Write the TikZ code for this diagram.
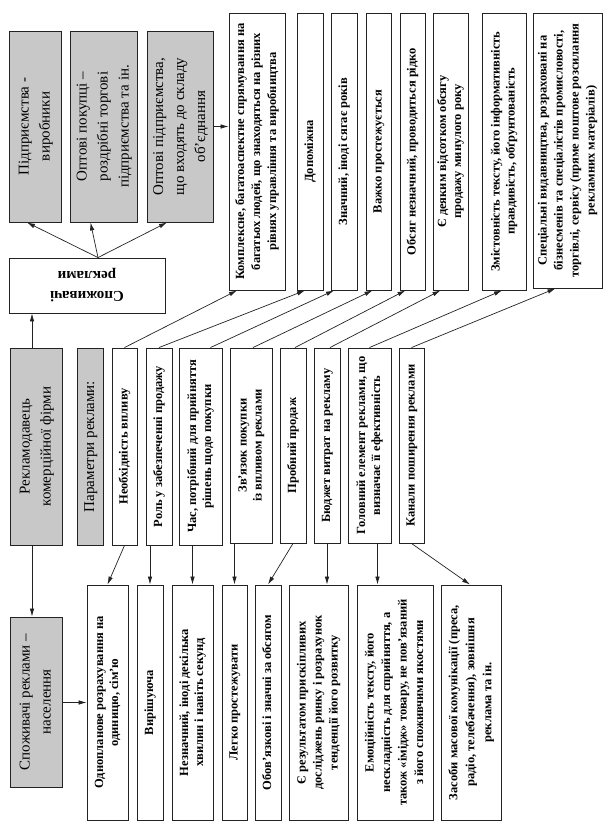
\documentclass[tikz,border=0pt]{standalone}
\usepackage{fontspec}
\setmainfont{Liberation Serif}
\usepackage{graphicx}
\usetikzlibrary{arrows.meta,calc}
\definecolor{boxgray}{RGB}{200,200,200}
\definecolor{lineclr}{RGB}{35,35,35}
\newcommand{\vtxt}[1]{\rotatebox{90}{\begin{tabular}{@{}c@{}}#1\end{tabular}}}
\tikzset{
  wbox/.style={draw=lineclr, line width=0.9pt, fill=white, inner sep=0pt, text=black,
    font=\bfseries\fontsize{12.5}{15}\selectfont},
  gbox/.style={wbox, fill=boxgray, font=\fontsize{15}{21}\selectfont},
  arr/.style={draw=lineclr, line width=0.7pt, -{Latex[length=8pt,width=4.5pt]}},
}
\begin{document}
\begin{tikzpicture}[x=1pt,y=-1pt]
\useasboundingbox (0,0) rectangle (612,835);
\fill[white] (0,0) rectangle (612,835);
% top gray boxes
\node[gbox, minimum width=52pt, minimum height=191pt] (G1) at (35,126.5) {\vtxt{Підприємства -\\виробники}};
\node[gbox, minimum width=67pt, minimum height=191pt] (G2) at (103.5,126.5) {\vtxt{Оптові покупці –\\роздрібні торгові\\підприємства та ін.}};
\node[gbox, minimum width=66pt, minimum height=191pt] (G3) at (180,126.5) {\vtxt{Оптові підприємства,\\що входять до складу\\об’єднання}};
% consumers of advertising
\node[wbox, font=\bfseries\fontsize{15}{20}\selectfont, minimum width=156pt, minimum height=55pt] (SR) at (87,285.5) {\rotatebox{180}{\begin{tabular}{@{}c@{}}Споживачі\\реклами\end{tabular}}};
% top white boxes
\node[wbox, font=\bfseries\fontsize{12.5}{16}\selectfont, minimum width=56pt, minimum height=277pt] (T1) at (257,151.5) {\vtxt{Комплексне, багатоаспектне спрямування на\\багатьох людей, що знаходяться на різних\\рівнях управління та виробництва}};
\node[wbox, minimum width=26pt, minimum height=277pt] (T2) at (310,151.5) {\vtxt{Допоміжна}};
\node[wbox, minimum width=26pt, minimum height=277pt] (T3) at (344,151.5) {\vtxt{Значний, іноді сягає років}};
\node[wbox, minimum width=25pt, minimum height=277pt] (T4) at (378.5,151.5) {\vtxt{Важко простежується}};
\node[wbox, minimum width=25pt, minimum height=277pt] (T5) at (412.5,151.5) {\vtxt{Обсяг незначний, проводиться рідко}};
\node[wbox, minimum width=35pt, minimum height=277pt] (T6) at (450.5,151.5) {\vtxt{Є деяким відсотком обсягу\\продажу минулого року}};
\node[wbox, minimum width=44pt, minimum height=277pt] (T7) at (504,151.5) {\vtxt{Змістовність тексту, його інформативність\\правдивість, обґрунтованість}};
\node[wbox, font=\bfseries\fontsize{12.5}{16}\selectfont, minimum width=69pt, minimum height=275pt] (T8) at (567.5,150.5) {\vtxt{Спеціальні видавництва, розраховані на\\бізнесменів та спеціалістів промисловості,\\торгівлі, сервісу (пряме поштове розсилання\\рекламних матеріалів)}};
% middle row
\node[gbox, minimum width=52pt, minimum height=197pt] (R) at (36,446.5) {\vtxt{Рекламодавець\\комерційної фірми}};
\node[gbox, minimum width=26pt, minimum height=197pt] (P) at (90,446.5) {\vtxt{Параметри реклами:}};
\node[wbox, minimum width=25pt, minimum height=197pt] (M1) at (124.5,446.5) {\vtxt{Необхідність впливу}};
\node[wbox, minimum width=26pt, minimum height=197pt] (M2) at (159,446.5) {\vtxt{Роль у забезпеченні продажу}};
\node[wbox, minimum width=43pt, minimum height=197pt] (M3) at (200.5,446.5) {\vtxt{Час, потрібний для прийняття\\рішень щодо покупки}};
\node[wbox, minimum width=42pt, minimum height=195pt] (M4) at (251,445.5) {\vtxt{Зв’язок покупки\\із впливом реклами}};
\node[wbox, minimum width=26pt, minimum height=195pt] (M5) at (293,445.5) {\vtxt{Пробний продаж}};
\node[wbox, minimum width=26pt, minimum height=195pt] (M6) at (327,445.5) {\vtxt{Бюджет витрат на рекламу}};
\node[wbox, minimum width=43pt, minimum height=195pt] (M7) at (369.5,445.5) {\vtxt{Головний елемент реклами, що\\визначає її ефективність}};
\node[wbox, minimum width=25pt, minimum height=195pt] (M8) at (411.5,445.5) {\vtxt{Канали поширення реклами}};
% bottom row
\node[gbox, minimum width=52pt, minimum height=170pt] (S) at (36,702) {\vtxt{Споживачі реклами –\\населення}};
\node[wbox, minimum width=41pt, minimum height=235pt] (B1) at (107.5,702.5) {\vtxt{Однопланове розрахування на\\одиницю, сім’ю}};
\node[wbox, minimum width=26pt, minimum height=235pt] (B2) at (150,702.5) {\vtxt{Вирішуюча}};
\node[wbox, minimum width=41pt, minimum height=235pt] (B3) at (192.5,702.5) {\vtxt{Незначний, іноді декілька\\хвилин і навіть секунд}};
\node[wbox, minimum width=25pt, minimum height=235pt] (B4) at (234.5,702.5) {\vtxt{Легко простежувати}};
\node[wbox, minimum width=26pt, minimum height=235pt] (B5) at (268,702.5) {\vtxt{Обов’язкові і значні за обсягом}};
\node[wbox, font=\bfseries\fontsize{12.5}{16}\selectfont, minimum width=59pt, minimum height=235pt] (B6) at (318.5,702.5) {\vtxt{Є результатом прискіпливих\\досліджень ринку і розрахунок\\тенденції його розвитку}};
\node[wbox, minimum width=76pt, minimum height=235pt, font=\bfseries\fontsize{12.5}{16.5}\selectfont] (B7) at (395,702.5) {\vtxt{Емоційність тексту, його\\нескладність для сприйняття, а\\також «імідж» товару, не пов’язаний\\з його споживчими якостями}};
\node[wbox, minimum width=60pt, minimum height=235pt, font=\bfseries\fontsize{12.5}{17}\selectfont] (B8) at (471,702.5) {\vtxt{Засоби масової комунікації (преса,\\радіо, телебачення), зовнішня\\реклама та ін.}};
% connectors: consumers to top gray boxes
\draw[arr] ([xshift=11pt]SR.north) -- ([xshift=-8pt]G1.south);
\draw[arr] ([xshift=11pt]SR.north) -- ([xshift=-13pt]G2.south);
\draw[arr] ([xshift=11pt]SR.north) -- ([xshift=-13pt]G3.south);
\draw[arr] (G3.east) -- (G3.east -| T1.west);
% advertiser
\draw[arr] ([xshift=-4pt]R.north) -- ([xshift=-4pt]R.north |- SR.south);
\draw[arr] ([xshift=-4pt]R.south) -- ([xshift=-4pt]R.south |- S.north);
\draw[arr] (S.east |- B1.west) -- (B1.west);
% parameters to top boxes
\draw[arr] (M1.north) -- ([xshift=-20pt]T1.south);
\draw[arr] (M2.north) -- ([xshift=-5pt]T2.south);
\draw[arr] ([xshift=10pt]M3.north) -- ([xshift=-10pt]T3.south);
\draw[arr] ([xshift=2pt]M4.north) -- ([xshift=-6pt]T4.south);
\draw[arr] ([xshift=2pt]M5.north) -- ([xshift=-7pt]T5.south);
\draw[arr] ([xshift=3pt]M6.north) -- ([xshift=-10pt]T6.south);
\draw[arr] (M7.north) -- ([xshift=-2pt]T7.south);
\draw[arr] (M8.north) -- ([xshift=-12pt]T8.south);
% parameters to bottom boxes
\draw[arr] (M1.south) -- (B1.north);
\draw[arr] (B2.north |- M2.south) -- (B2.north);
\draw[arr] (B3.north |- M3.south) -- (B3.north);
\draw[arr] (B4.north |- M4.south) -- (B4.north);
\draw[arr] (M5.south) -- (B5.north);
\draw[arr] (M6.south) -- (M6.south |- B6.north);
\draw[arr] ([xshift=8pt]M7.south) -- ([xshift=8pt]M7.south |- B7.north);
\draw[arr] (M8.south) -- ([xshift=-1pt]B8.north);
\end{tikzpicture}
\end{document}
